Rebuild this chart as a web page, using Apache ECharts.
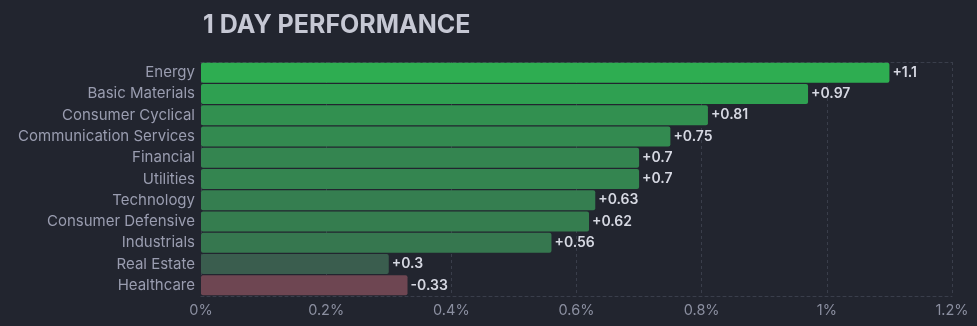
<!DOCTYPE html>
<html>
<head>
<meta charset="utf-8">
<title>1 Day Performance</title>
<script src="https://cdn.jsdelivr.net/npm/echarts@6/dist/echarts.min.js"></script>
<style>
  html, body { margin: 0; padding: 0; background: #22252f; }
  #chart { width: 977px; height: 326px; }
</style>
</head>
<body>
<div id="chart"></div>
<script>
// Sector performance over one trading day, in percent
const sectors = [
  'Energy', 'Basic Materials', 'Consumer Cyclical', 'Communication Services',
  'Financial', 'Utilities', 'Technology', 'Consumer Defensive',
  'Industrials', 'Real Estate', 'Healthcare'
];
const changes = [1.1, 0.97, 0.81, 0.75, 0.7, 0.7, 0.63, 0.62, 0.56, 0.3, -0.33];
const xTicks = [0, 0.2, 0.4, 0.6, 0.8, 1, 1.2];

// Gains fade from grey toward bright green; losses toward muted red
function barColor(v) {
  const clamp = x => Math.max(0, Math.min(255, Math.round(x)));
  if (v >= 0) {
    return 'rgb(' + clamp(62 - v * 15) + ',' + clamp(63 + v * 100) + ',' + clamp(77 + v * 4) + ')';
  }
  const a = -v;
  return 'rgb(' + clamp(62 + a * 145) + ',' + clamp(63 + a * 21) + ',' + clamp(77 + a * 15) + ')';
}

const gridLine = { color: '#3a3e4b', type: [3, 3], width: 1 };

const chart = echarts.init(document.getElementById('chart'), null, { renderer: 'canvas' });

chart.setOption({
  backgroundColor: '#22252f',
  animation: false,
  title: {
    text: '1 DAY PERFORMANCE',
    left: 198,
    top: 8,
    textStyle: {
      color: '#c6c8d4',
      fontFamily: 'Inter',
      fontWeight: 'bold',
      fontSize: 25
    }
  },
  grid: { left: 201, right: 25, top: 62, bottom: 30, containLabel: false },
  xAxis: [{
    type: 'value',
    min: xTicks[0],
    max: xTicks[xTicks.length - 1],
    interval: 0.2,
    axisLine: { show: true, lineStyle: gridLine },
    axisTick: { show: false },
    splitLine: { show: true, lineStyle: gridLine },
    axisLabel: {
      color: '#8b8fa0',
      fontFamily: 'Inter',
      fontSize: 14.5,
      margin: 7,
      formatter: v => (Math.round(v * 10) / 10) + '%'
    }
  }, {
    // top border of the plot area
    type: 'value',
    position: 'top',
    min: xTicks[0],
    max: xTicks[xTicks.length - 1],
    interval: 0.2,
    axisLine: { show: true, lineStyle: gridLine },
    axisTick: { show: false },
    axisLabel: { show: false },
    splitLine: { show: false }
  }],
  yAxis: {
    type: 'category',
    data: sectors,
    inverse: true,
    axisLine: { show: false },
    axisTick: { show: false },
    splitLine: { show: false },
    axisLabel: {
      color: '#9a9db0',
      fontFamily: 'Inter',
      fontSize: 15,
      margin: 6
    }
  },
  series: [{
    type: 'bar',
    xAxisIndex: 0,
    barCategoryGap: '6%',
    data: changes.map(v => ({
      value: Math.abs(v),
      change: v,
      itemStyle: { color: barColor(v), borderRadius: 2 }
    })),
    label: {
      show: true,
      position: 'right',
      distance: 3,
      color: '#d6d8e2',
      fontFamily: 'Inter',
      fontWeight: 600,
      fontSize: 14,
      formatter: p => (p.data.change >= 0 ? '+' : '') + p.data.change
    }
  }]
});
</script>
</body>
</html>
